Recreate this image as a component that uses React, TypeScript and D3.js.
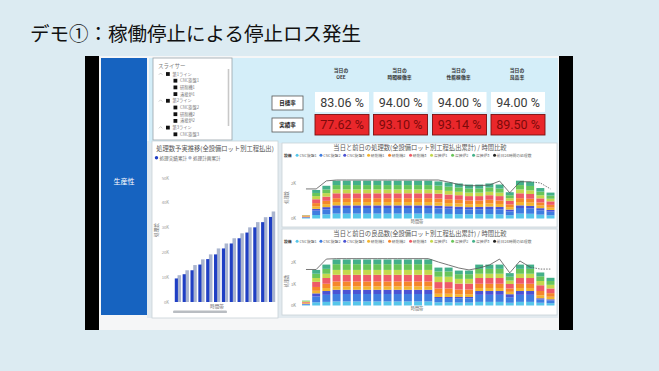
import React from 'react';
import * as d3 from 'd3';

const FONT = '"Noto Sans CJK JP", "Noto Sans", sans-serif';

// ---- slide / dashboard text ----
const slideTitle = 'デモ①：稼働停止による停止ロス発生';
const sideMenu = '生産性';

const slicerLabels = ['第1ライン', 'CNC旋盤1', '研削機1', '溶接炉1', '第2ライン', 'CNC旋盤2', '研削機2', '溶接炉2', '第3ライン', 'CNC旋盤3'];
const slicerLevels = [0, 1, 1, 1, 0, 1, 1, 1, 0, 1];

// ---- KPI cards ----
const kpiHeadTop = ['当日の', '当日の', '当日の', '当日の'];
const kpiHeadBottom = ['OEE', '時間稼働率', '性能稼働率', '良品率'];
const targetRates = [83.06, 94.0, 94.0, 94.0];
const actualRates = [77.62, 93.1, 93.14, 89.5];

// ---- left chart: cumulative actual vs plan (K) ----
const cumSlots = ['1', '2', '3', '4', '5', '6', '7', '8', '9', '10', '11', '12', '13'];
const actualCum = [9.5, 11.2, 12.8, 15.1, 17.3, 19.2, 21.6, 23.6, 25.7, 28.0, 30.1, 32.2, 34.3];
const planCum = [10.8, 12.8, 14.9, 17.2, 19.2, 21.6, 23.6, 25.7, 27.7, 30.1, 32.2, 34.2, 36.5];
const cumTicks = [0, 10, 20, 30, 40, 50];

// ---- right charts: hourly stacks by machine (K) ----
const hours = ['0', '1', '2', '3', '4', '5', '6', '7', '8', '9', '10', '11', '12', '13', '14', '15', '16', '17', '18', '19', '20', '21', '22', '23', '24'];
const machines = ['CNC旋盤1', 'CNC旋盤2', 'CNC旋盤3', '研削機1', '研削機2', '研削機3', '溶接炉1', '溶接炉2', '溶接炉3'];
const machineColors = ['#56c6ea', '#3f7de0', '#4b53d4', '#f3b52f', '#f5862b', '#ee5a68', '#c4d84c', '#68c55a', '#43b08a'];
const prevLabel = '前日24時間の処理数';

const procCnc1 = [0.03, 0.2, 0.24, 0.28, 0.28, 0.28, 0.28, 0.28, 0.28, 0.28, 0.28, 0.28, 0.28, 0.27, 0.26, 0.25, 0.24, 0.25, 0.25, 0.24, 0.19, 0.28, 0.27, 0.22, 0.18];
const procCnc2 = [0.03, 0.25, 0.28, 0.32, 0.32, 0.32, 0.32, 0.32, 0.32, 0.32, 0.32, 0.32, 0.32, 0.31, 0.3, 0.29, 0.28, 0.28, 0.29, 0.28, 0.22, 0.32, 0.31, 0.25, 0.21];
const procCnc3 = [0.02, 0.1, 0.13, 0.15, 0.15, 0.15, 0.15, 0.15, 0.15, 0.15, 0.15, 0.15, 0.15, 0.15, 0.14, 0.14, 0.13, 0.13, 0.14, 0.14, 0.1, 0.15, 0.14, 0.12, 0.1];
const procGr1 = [0.03, 0.15, 0.17, 0.19, 0.19, 0.19, 0.19, 0.19, 0.19, 0.19, 0.19, 0.19, 0.19, 0.19, 0.18, 0.18, 0.17, 0.17, 0.18, 0.17, 0.14, 0.19, 0.19, 0.15, 0.13];
const procGr2 = [0.03, 0.18, 0.19, 0.22, 0.22, 0.22, 0.22, 0.22, 0.22, 0.22, 0.22, 0.22, 0.22, 0.22, 0.22, 0.21, 0.21, 0.2, 0.21, 0.2, 0.16, 0.22, 0.22, 0.18, 0.16];
const procGr3 = [0.03, 0.22, 0.24, 0.28, 0.28, 0.28, 0.28, 0.28, 0.28, 0.28, 0.28, 0.28, 0.28, 0.28, 0.27, 0.26, 0.25, 0.25, 0.26, 0.25, 0.2, 0.28, 0.27, 0.23, 0.2];
const procW1 = [0.02, 0.18, 0.2, 0.22, 0.22, 0.22, 0.22, 0.22, 0.22, 0.22, 0.22, 0.22, 0.22, 0.21, 0.21, 0.2, 0.2, 0.2, 0.2, 0.2, 0.15, 0.22, 0.21, 0.18, 0.15];
const procW2 = [0.01, 0.18, 0.21, 0.25, 0.25, 0.25, 0.25, 0.25, 0.25, 0.25, 0.25, 0.25, 0.25, 0.25, 0.24, 0.24, 0.23, 0.23, 0.24, 0.23, 0.17, 0.25, 0.25, 0.21, 0.18];
const procW3 = [0, 0.17, 0.21, 0.25, 0.25, 0.25, 0.25, 0.25, 0.25, 0.25, 0.25, 0.25, 0.25, 0.24, 0.24, 0.23, 0.23, 0.23, 0.23, 0.23, 0.17, 0.25, 0.24, 0.2, 0.17];
const procPrev = [1.69, 1.69, 2.15, 2.2, 2.2, 2.2, 2.2, 2.2, 2.2, 2.2, 2.2, 2.2, 2.2, 2.2, 2.08, 1.94, 1.87, 1.88, 1.91, 2.14, 1.47, 2.1, 2.1, 2.03, 1.69];

const goodCnc1 = [0.03, 0.15, 0.17, 0.19, 0.19, 0.19, 0.19, 0.19, 0.19, 0.19, 0.19, 0.19, 0.19, 0.15, 0.15, 0.14, 0.14, 0.17, 0.17, 0.17, 0.13, 0.17, 0.17, 0.13, 0.11];
const goodCnc2 = [0.03, 0.27, 0.33, 0.35, 0.35, 0.35, 0.35, 0.35, 0.35, 0.35, 0.35, 0.35, 0.35, 0.2, 0.2, 0.2, 0.2, 0.33, 0.33, 0.33, 0.26, 0.33, 0.33, 0.15, 0.13];
const goodCnc3 = [0.02, 0.15, 0.18, 0.2, 0.2, 0.2, 0.2, 0.2, 0.2, 0.2, 0.2, 0.2, 0.2, 0.05, 0.05, 0.06, 0.06, 0.18, 0.18, 0.18, 0.14, 0.18, 0.18, 0.06, 0.05];
const goodGr1 = [0.03, 0.12, 0.14, 0.16, 0.16, 0.16, 0.16, 0.16, 0.16, 0.16, 0.16, 0.16, 0.16, 0.15, 0.15, 0.13, 0.13, 0.14, 0.14, 0.14, 0.11, 0.14, 0.14, 0.14, 0.12];
const goodGr2 = [0.03, 0.18, 0.2, 0.23, 0.23, 0.23, 0.23, 0.23, 0.23, 0.23, 0.23, 0.23, 0.23, 0.25, 0.25, 0.22, 0.22, 0.2, 0.2, 0.2, 0.16, 0.2, 0.2, 0.2, 0.17];
const goodGr3 = [0.03, 0.24, 0.27, 0.31, 0.31, 0.31, 0.31, 0.31, 0.31, 0.31, 0.31, 0.31, 0.31, 0.3, 0.3, 0.28, 0.28, 0.27, 0.27, 0.27, 0.21, 0.27, 0.27, 0.27, 0.22];
const goodW1 = [0.03, 0.18, 0.2, 0.23, 0.23, 0.23, 0.23, 0.23, 0.23, 0.23, 0.23, 0.23, 0.23, 0.25, 0.25, 0.22, 0.22, 0.2, 0.2, 0.2, 0.16, 0.2, 0.2, 0.2, 0.17];
const goodW2 = [0.02, 0.2, 0.23, 0.27, 0.27, 0.27, 0.27, 0.27, 0.27, 0.27, 0.27, 0.27, 0.27, 0.25, 0.25, 0.22, 0.22, 0.23, 0.23, 0.23, 0.18, 0.23, 0.23, 0.22, 0.18];
const goodW3 = [0.01, 0.18, 0.2, 0.22, 0.22, 0.22, 0.22, 0.22, 0.22, 0.22, 0.22, 0.22, 0.22, 0.18, 0.18, 0.17, 0.17, 0.2, 0.2, 0.2, 0.17, 0.2, 0.2, 0.18, 0.15];
const goodPrev = [1.69, 1.69, 2.18, 2.2, 2.2, 2.2, 2.2, 2.2, 2.2, 2.2, 2.2, 2.2, 2.2, 2.04, 1.9, 1.76, 1.67, 1.76, 1.9, 2.18, 1.53, 2.09, 1.8, 1.71, 1.71];

const procSeries = [procCnc1, procCnc2, procCnc3, procGr1, procGr2, procGr3, procW1, procW2, procW3];
const goodSeries = [goodCnc1, goodCnc2, goodCnc3, goodGr1, goodGr2, goodGr3, goodW1, goodW2, goodW3];

// rough text width for legend layout
const textW = (s: string, fs: number) => {
  let w = 0;
  for (const ch of s) w += /[\u3000-\u9fff\uff00-\uffef]/.test(ch) ? fs : fs * 0.58;
  return w;
};

const Legend = ({ x, y }: { x: number; y: number }) => {
  const fs = 3.8;
  let cx = x + textW('設備', fs) + 4;
  const items = [...machines.map((m, i) => ({ m, c: machineColors[i] })), { m: prevLabel, c: '#222' }];
  return (
    <g fontSize={fs} fontFamily={FONT}>
      <text x={x} y={y} fill="#333" fontWeight="bold">設備</text>
      {items.map(it => {
        const gx = cx;
        cx += textW(it.m, fs) + 7.4;
        return (
          <g key={it.m}>
            <circle cx={gx + 1.5} cy={y - 1.3} r={1.5} fill={it.c} />
            <text x={gx + 3.8} y={y} fill="#666">{it.m}</text>
          </g>
        );
      })}
    </g>
  );
};

type StackProps = {
  top: number; height: number; title: string; series: number[][]; prev: number[];
  yMax: number; y0: number; y1: number; ticks: number[];
};

const StackPanel = ({ top, height, title, series, prev, yMax, y0, y1, ticks }: StackProps) => {
  const x = d3.scaleBand().domain(hours).range([301.5, 555]).paddingInner(0.22).paddingOuter(0.05);
  const y = d3.scaleLinear().domain([0, yMax]).range([y0, y1]);
  const rows = hours.map((h, i) => {
    const r: any = { hour: h };
    machines.forEach((m, k) => { r[m] = series[k][i]; });
    return r;
  });
  const stacked = d3.stack<any>().keys(machines)(rows);
  const line = d3.line<number>()
    .x((_, i) => (x(hours[i]) as number) + x.bandwidth() / 2)
    .y(d => y(d));
  const solid = prev.slice(0, 23);
  const dashed = prev.map((v, i) => (i >= 22 ? v : NaN));
  const dashLine = d3.line<number>()
    .defined(d => !isNaN(d))
    .x((_, i) => (x(hours[i]) as number) + x.bandwidth() / 2)
    .y(d => y(d));

  return (
    <g fontFamily={FONT}>
      <rect x={282} y={top} width={275} height={height} fill="#fff" stroke="#c9d2d8" strokeWidth={0.8} />
      <text x={420} y={top + 6.5} textAnchor="middle" fontSize={6.3} fill="#555">{title}</text>
      <Legend x={284} y={top + 13.5} />
      <text transform={`translate(287.5,${(y0 + y1) / 2}) rotate(-90)`} textAnchor="middle" fontSize={4.2} fill="#777">処理数</text>
      {ticks.map(t => (
        <text key={t} x={296} y={y(t) + 1.5} textAnchor="end" fontSize={4.2} fill="#888">{`${t}K`}</text>
      ))}
      {stacked.map((s, k) => (
        <g key={machines[k]} fill={machineColors[k]}>
          {s.map((d, i) => (
            <rect key={i} x={x(hours[i])} y={y(d[1])} width={x.bandwidth()} height={Math.max(0, y(d[0]) - y(d[1]))} />
          ))}
        </g>
      ))}
      <path d={line(solid) || ''} fill="none" stroke="#555" strokeWidth={0.8} />
      <path d={dashLine(dashed) || ''} fill="none" stroke="#555" strokeWidth={0.8} strokeDasharray="1.5,1.2" />
      <text x={417} y={y0 + 4.8} textAnchor="middle" fontSize={4.2} fill="#666">時間帯</text>
    </g>
  );
};

const CumPanel = () => {
  const x = d3.scaleBand().domain(cumSlots).range([174, 276]).paddingInner(0.2).paddingOuter(0.1);
  const y = d3.scaleLinear().domain([0, 50]).range([302, 178]);
  const half = x.bandwidth() / 2;
  return (
    <g fontFamily={FONT}>
      <rect x={152} y={141} width={126} height={177} fill="#fff" stroke="#c9d2d8" strokeWidth={0.8} />
      <text x={215} y={150.5} textAnchor="middle" fontSize={6.3} fill="#555">処理数予実推移(全設備ロット別工程払出)</text>
      <circle cx={156.5} cy={157.8} r={1.7} fill="#1f3fc4" />
      <text x={159.5} y={159.5} fontSize={4.6} fill="#666">処理実績累計</text>
      <circle cx={190} cy={157.8} r={1.7} fill="#aab5cf" />
      <text x={193} y={159.5} fontSize={4.6} fill="#666">処理計画累計</text>
      <text transform="translate(157.5,230) rotate(-90)" textAnchor="middle" fontSize={4.6} fill="#777">処理数</text>
      {cumTicks.map(t => (
        <text key={t} x={169} y={y(t) + 1.5} textAnchor="end" fontSize={4.2} fill="#999">{`${t}K`}</text>
      ))}
      {cumSlots.map((s, i) => (
        <g key={s}>
          <rect x={(x(s) as number) + half - 0.4} y={y(planCum[i])} width={half + 0.4} height={302 - y(planCum[i])} fill="#aab5cf" />
          <rect x={x(s)} y={y(actualCum[i])} width={half} height={302 - y(actualCum[i])} fill="#1f3fc4" />
        </g>
      ))}
      <text x={217} y={308} textAnchor="middle" fontSize={4.6} fill="#666">時間帯</text>
      <rect x={173} y={310.5} width={54} height={2.6} rx={1.2} fill="#b9bdc2" />
    </g>
  );
};

const Slicer = () => (
  <g fontFamily={FONT}>
    <rect x={153} y={58} width={79} height={82} fill="#fff" stroke="#9aa3aa" strokeWidth={0.8} />
    <text x={158} y={67.5} fontSize={5.5} fill="#777">スライサー</text>
    <line x1={228.5} y1={69} x2={228.5} y2={126} stroke="#c8c8c8" strokeWidth={1.6} />
    {slicerLabels.map((s, i) => {
      const yy = 74 + i * 6.7;
      const lv = slicerLevels[i];
      const sx = lv === 0 ? 166 : 173.5;
      return (
        <g key={s}>
          {lv === 0 && <path d={`M158.8,${yy + 0.8} L160.6,${yy - 1} L162.4,${yy + 0.8}`} fill="none" stroke="#999" strokeWidth={0.5} />}
          <rect x={sx} y={yy - 1.9} width={3.8} height={3.8} fill="#111" />
          <text x={sx + 6.5} y={yy + 1.5} fontSize={4.2} fill="#777">{s}</text>
        </g>
      );
    })}
  </g>
);

const Kpi = () => {
  const boxX = [315, 373.5, 432.5, 491];
  const bw = 54;
  return (
    <g fontFamily={FONT}>
      <rect x={149} y={58} width={409} height={85} fill="#d4eef9" />
      {kpiHeadTop.map((t, i) => (
        <g key={i} fontSize={4.8} fill="#333" fontWeight="bold" textAnchor="middle">
          <text x={boxX[i] + bw / 2 - 1} y={71.5}>{t}</text>
          <text x={boxX[i] + bw / 2 - 1} y={78.5}>{kpiHeadBottom[i]}</text>
        </g>
      ))}
      <rect x={272} y={96} width={31} height={14} fill="#fff" stroke="#555" strokeWidth={0.8} />
      <text x={287.5} y={105} textAnchor="middle" fontSize={5.5} fontWeight="bold" fill="#222">目標率</text>
      <rect x={272} y={118} width={31} height={14} fill="#fff" stroke="#555" strokeWidth={0.8} />
      <text x={287.5} y={127} textAnchor="middle" fontSize={5.5} fontWeight="bold" fill="#222">実績率</text>
      {targetRates.map((v, i) => (
        <g key={i}>
          <rect x={boxX[i]} y={92} width={bw} height={20} fill="#fff" />
          <text x={boxX[i] + bw / 2} y={106.5} textAnchor="middle" fontFamily="Roboto, sans-serif" fontSize={12.5} fill="#3a3a3a">{`${v.toFixed(2)} %`}</text>
          <rect x={boxX[i]} y={114.5} width={bw} height={20.5} fill="#e9272b" stroke="#7b1010" strokeWidth={0.9} />
          <text x={boxX[i] + bw / 2} y={129.3} textAnchor="middle" fontFamily="Roboto, sans-serif" fontSize={12.5} fill="#7d0a0a">{`${actualRates[i].toFixed(2)} %`}</text>
        </g>
      ))}
    </g>
  );
};

export default function App() {
  return (
    <svg width={659} height={371} style={{ position: 'absolute', left: 0, top: 0, display: 'block' }}>
      <rect x={0} y={0} width={659} height={371} fill="#dcebf2" />
      <text x={30} y={40.5} fontFamily={FONT} fontSize={19.5} fill="#111">{slideTitle}</text>

      {/* dashboard screenshot frame */}
      <rect x={99} y={56} width={460} height={274} fill="#f5f6f7" />
      <rect x={85} y={56} width={14} height={274} fill="#000" />
      <rect x={559} y={56} width={14} height={274} fill="#000" />
      <rect x={101} y={58} width={46} height={257} fill="#1663c0" />
      <text x={124} y={184} textAnchor="middle" fontFamily={FONT} fontSize={7} fill="#fff">{sideMenu}</text>
      <rect x={147} y={141} width={411} height={177} fill="#e2eaef" />

      <Kpi />
      <Slicer />
      <CumPanel />
      <StackPanel top={143} height={84} title="当日と前日の処理数(全設備ロット別工程払出累計) / 時間比較"
        series={procSeries} prev={procPrev} yMax={2.4} y0={218.5} y1={176.5} ticks={[0, 2]} />
      <StackPanel top={229} height={86} title="当日と前日の良品数(全設備ロット別工程払出累計) / 時間比較"
        series={goodSeries} prev={goodPrev} yMax={2.3} y0={305.5} y1={256.5} ticks={[0, 1, 2]} />
    </svg>
  );
}
